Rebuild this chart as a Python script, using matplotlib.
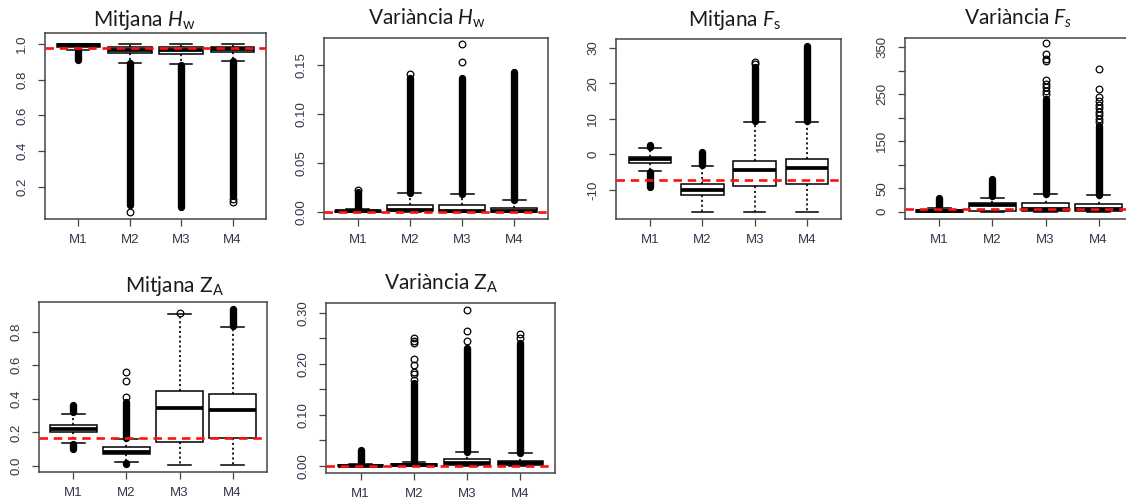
import numpy as np
import matplotlib
matplotlib.use("Agg")
import matplotlib.pyplot as plt

plt.rcParams["mathtext.fontset"] = "custom"
plt.rcParams["mathtext.rm"] = "Lato"
plt.rcParams["mathtext.it"] = "Lato:italic"
plt.rcParams["mathtext.bf"] = "Lato:bold"

models = ["M1", "M2", "M3", "M4"]

# Box statistics per model: (whisker low, Q1, median, Q3, whisker high)
hw_mean_box = [(0.965, 0.985, 0.993, 0.999, 1.000),
               (0.897, 0.952, 0.968, 0.985, 1.000),
               (0.889, 0.947, 0.968, 0.986, 1.000),
               (0.908, 0.958, 0.975, 0.987, 1.000)]
# Dense outlier runs: (model index, low, high)
hw_mean_runs = [(0, 0.912, 0.962), (1, 0.100, 0.893), (2, 0.088, 0.886), (3, 0.150, 0.905)]
# Isolated outliers: (model index, value)
hw_mean_pts = [(1, 0.058), (3, 0.130), (3, 0.116)]
hw_mean_ref = 0.981

hw_var_box = [(0.0, 0.0, 0.0003, 0.0010, 0.0025),
              (0.0, 0.0007, 0.0015, 0.0069, 0.0188),
              (0.0, 0.0, 0.0007, 0.0072, 0.0178),
              (0.0, 0.0, 0.0008, 0.0040, 0.0120)]
hw_var_runs = [(0, 0.0030, 0.0205), (1, 0.0190, 0.1370), (2, 0.0180, 0.1370), (3, 0.0122, 0.1430)]
hw_var_pts = [(0, 0.0220), (1, 0.1405), (2, 0.1530), (2, 0.1710)]
hw_var_ref = 0.0

fs_mean_box = [(-4.6, -2.4, -1.4, -0.65, 1.9),
               (-16.1, -11.4, -10.0, -8.2, -3.3),
               (-16.2, -8.9, -4.4, -1.8, 9.1),
               (-16.0, -8.4, -3.9, -1.4, 9.2)]
fs_mean_runs = [(0, 2.2, 2.6), (0, -9.0, -5.0), (1, -3.0, 0.8), (2, 9.3, 24.5), (3, 9.3, 30.4)]
fs_mean_pts = [(2, 25.5), (2, 26.0)]
fs_mean_ref = -7.2

fs_var_box = [(0.0, 0.0, 1.0, 4.0, 8.0),
              (0.0, 1.0, 14.0, 17.5, 30.0),
              (0.0, 0.5, 6.0, 18.0, 38.0),
              (0.0, 1.0, 6.0, 16.0, 36.0)]
fs_var_runs = [(0, 9.0, 30.0), (1, 33.0, 70.0), (2, 38.0, 240.0), (3, 36.0, 182.0)]
fs_var_pts = [(2, 250), (2, 258), (2, 265), (2, 272), (2, 280), (2, 321), (2, 326), (2, 335), (2, 359),
              (3, 190), (3, 197), (3, 205), (3, 212), (3, 220), (3, 228), (3, 235), (3, 245),
              (3, 261), (3, 304)]
fs_var_ref = 6.0

za_mean_box = [(0.137, 0.205, 0.222, 0.245, 0.310),
               (0.022, 0.072, 0.086, 0.113, 0.160),
               (0.006, 0.141, 0.343, 0.446, 0.905),
               (0.006, 0.165, 0.333, 0.429, 0.826)]
za_mean_runs = [(0, 0.320, 0.365), (0, 0.102, 0.128), (1, 0.165, 0.380), (1, 0.009, 0.015), (3, 0.836, 0.935)]
za_mean_pts = [(1, 0.412), (1, 0.508), (1, 0.558), (2, 0.912)]
za_mean_ref = 0.165

za_var_box = [(0.0, 0.0, 0.0008, 0.0020, 0.0035),
              (0.0, 0.0, 0.0010, 0.0030, 0.0070),
              (0.0, 0.0010, 0.0050, 0.0130, 0.0270),
              (0.0, 0.0020, 0.0050, 0.0105, 0.0250)]
za_var_runs = [(0, 0.0045, 0.0310), (1, 0.0075, 0.1620), (2, 0.0280, 0.2300), (3, 0.0260, 0.2400)]
za_var_pts = [(1, 0.168), (1, 0.181), (1, 0.184), (1, 0.198), (1, 0.209), (1, 0.240), (1, 0.245), (1, 0.250),
              (2, 0.245), (2, 0.264), (2, 0.305), (3, 0.250), (3, 0.258)]
za_var_ref = 0.0

W, H = 1126, 501
fig = plt.figure(figsize=(W / 100, H / 100), dpi=100)

TICK_COLOR = "#34344a"
FRAME_COLOR = "#454545"


def make_axes(left, top, right, bottom):
    return fig.add_axes([left / W, 1 - bottom / H, (right - left) / W, (bottom - top) / H])


def panel(rect, title, title_xy, box, runs, pts, ref, ylim, yticks, ylabels, width):
    ax = make_axes(*rect)
    stats = []
    for i, (lo, q1, med, q3, hi) in enumerate(box):
        fl = [v for (k, v) in pts if k == i]
        stats.append(dict(whislo=lo, q1=q1, med=med, q3=q3, whishi=hi, fliers=fl))
    pos = np.arange(1, len(box) + 1)
    ax.bxp(stats, positions=pos, widths=width, patch_artist=True,
           boxprops=dict(facecolor="white", edgecolor="black", linewidth=1.1),
           medianprops=dict(color="black", linewidth=2.7, solid_capstyle="butt"),
           whiskerprops=dict(color="black", linewidth=1.2, linestyle=(0, (1.3, 1.6))),
           capprops=dict(color="black", linewidth=1.1),
           capwidths=width * 0.5,
           flierprops=dict(marker="o", markersize=4.8, markerfacecolor="none",
                           markeredgecolor="black", markeredgewidth=0.9))
    for (k, lo, hi) in runs:
        ax.plot([pos[k], pos[k]], [lo, hi], color="black", lw=5.3,
                solid_capstyle="round", zorder=3)
    ax.axhline(ref, color="#ff1010", lw=1.9, linestyle=(0, (3.2, 2.2)), zorder=5)

    ax.set_xlim(0.35, 4.65)
    ax.set_ylim(*ylim)
    ax.set_xticks(pos)
    ax.set_xticklabels(models, fontsize=9.5, color=TICK_COLOR, family="Liberation Sans")
    ax.set_yticks(yticks)
    ax.set_yticklabels(ylabels, fontsize=9.5, color=TICK_COLOR, family="Liberation Sans",
                       rotation=90, va="center")
    ax.tick_params(axis="x", length=5, width=0.9, color=FRAME_COLOR, pad=6)
    ax.tick_params(axis="y", length=5, width=0.9, color=FRAME_COLOR, pad=7)
    for s in ax.spines.values():
        s.set_color(FRAME_COLOR)
        s.set_linewidth(1.1)
    fig.text(title_xy[0] / W, 1 - title_xy[1] / H, title, ha="center", va="baseline",
             fontsize=15, family="Lato", color="#1c1c1c")
    return ax


panel((45, 33, 266, 219), r"Mitjana $H_\mathrm{w}$", (144, 26),
      hw_mean_box, hw_mean_runs, hw_mean_pts, hw_mean_ref,
      (0.019, 1.063), [0.2, 0.4, 0.6, 0.8, 1.0], ["0.2", "0.4", "0.6", "0.8", "1.0"], 0.85)

panel((324, 38, 548, 219), r"Variància $H_\mathrm{w}$", (427, 25),
      hw_var_box, hw_var_runs, hw_var_pts, hw_var_ref,
      (-0.0075, 0.1776), [0.0, 0.05, 0.10, 0.15], ["0.00", "0.05", "0.10", "0.15"], 0.88)

panel((616, 39, 841, 219), r"Mitjana $F_\mathrm{s}$", (735, 26),
      fs_mean_box, fs_mean_runs, fs_mean_pts, fs_mean_ref,
      (-18.1, 32.4), [-10, 0, 10, 20, 30], ["-10", "0", "10", "20", "30"], 0.82)

panel((905, 38, 1133, 219), r"Variància $F_s$", (1018, 25),
      fs_var_box, fs_var_runs, fs_var_pts, fs_var_ref,
      (-15.5, 369.8), [0, 50, 100, 150, 200, 250, 300, 350],
      ["0", "50", "", "150", "", "250", "", "350"], 0.88)

panel((39, 302, 267, 472), r"Mitjana $\mathrm{Z}_\mathrm{A}$", (175, 292),
      za_mean_box, za_mean_runs, za_mean_pts, za_mean_ref,
      (-0.036, 0.977), [0.0, 0.2, 0.4, 0.6, 0.8], ["0.0", "0.2", "0.4", "0.6", "0.8"], 0.9)

panel((326, 303, 555, 473), r"Variància $\mathrm{Z}_\mathrm{A}$", (441, 290),
      za_var_box, za_var_runs, za_var_pts, za_var_ref,
      (-0.0137, 0.319), [0.0, 0.05, 0.10, 0.15, 0.20, 0.25, 0.30],
      ["0.00", "", "0.10", "", "0.20", "", "0.30"], 0.85)

fig.savefig("out.png", dpi=100, facecolor="white")
